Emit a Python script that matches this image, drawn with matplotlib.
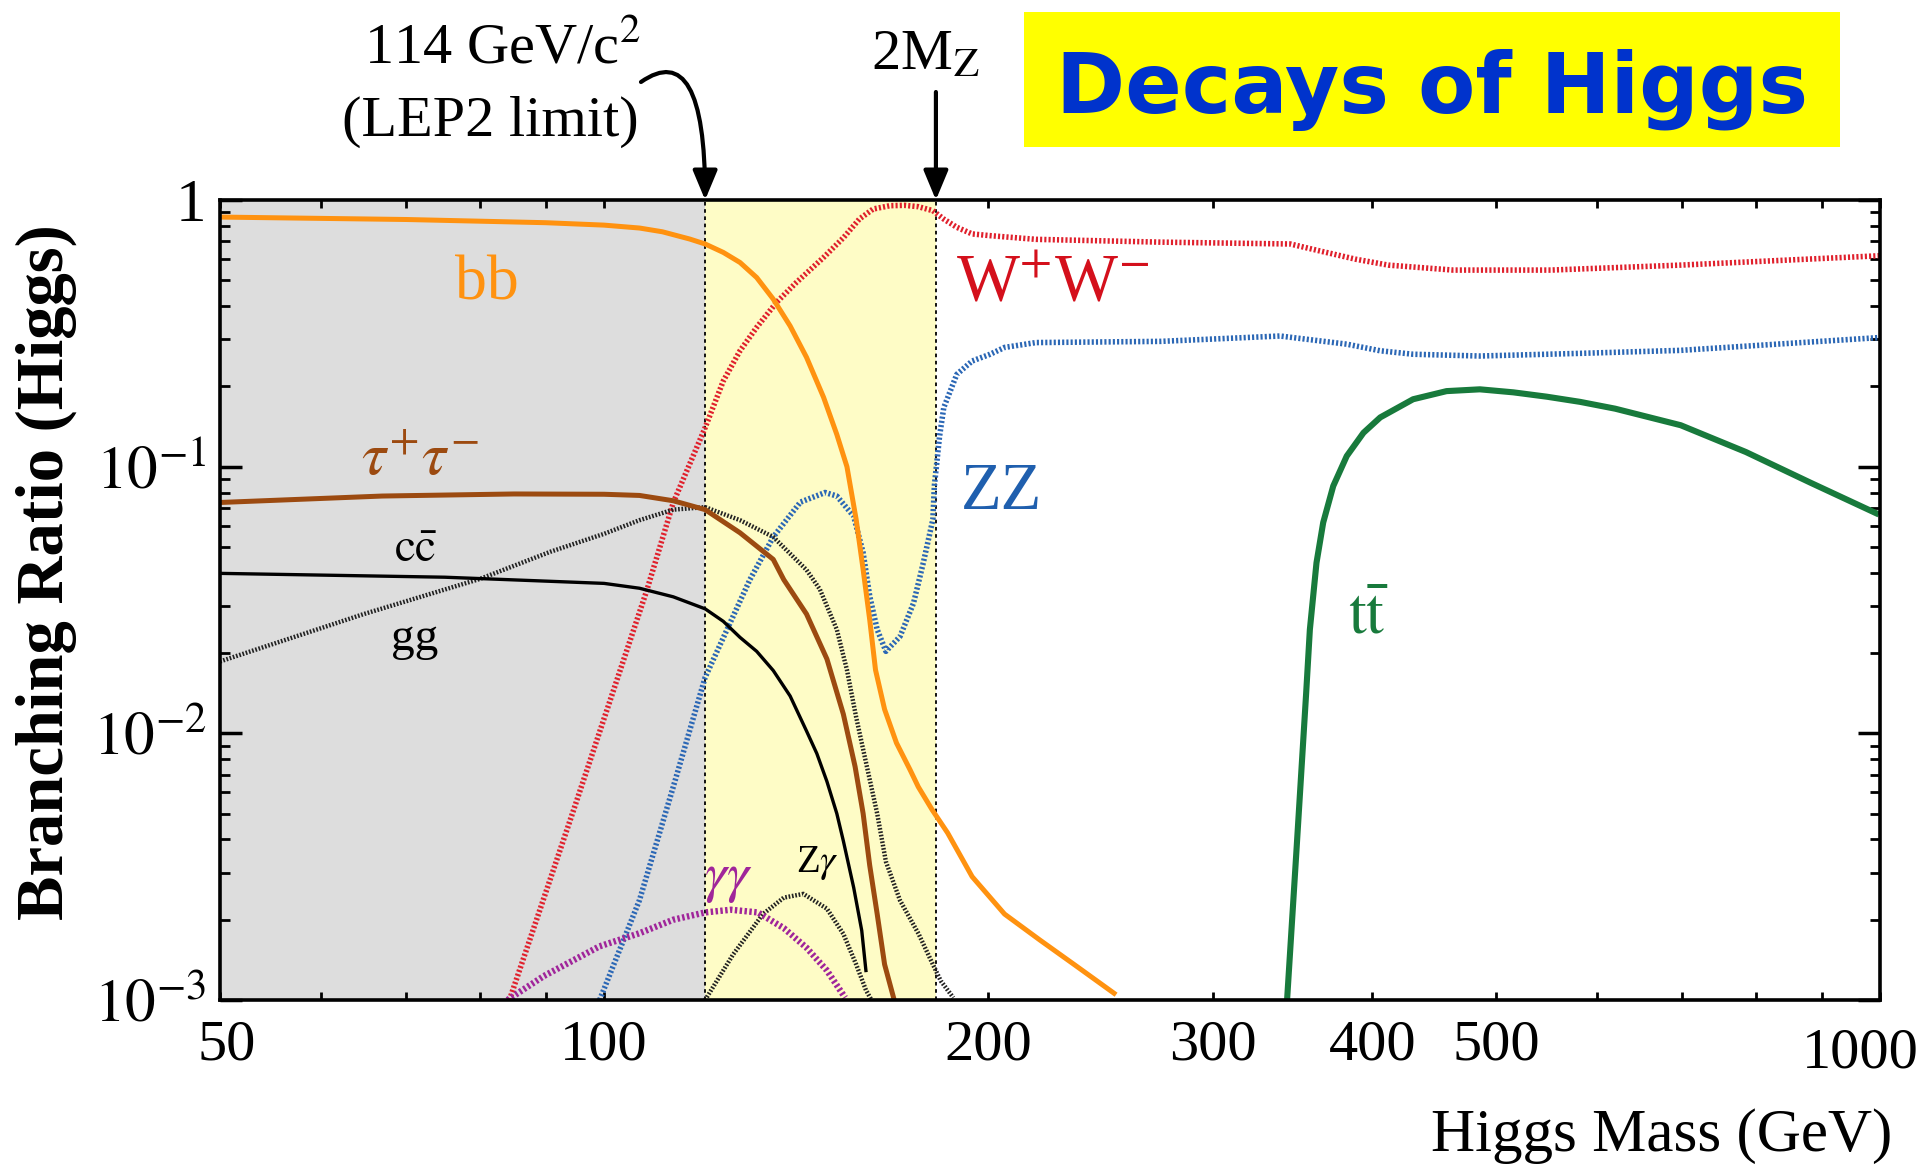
import matplotlib
matplotlib.use("Agg")
import matplotlib.pyplot as plt
import matplotlib.transforms as mtransforms
from matplotlib.ticker import FixedLocator, FixedFormatter, LogLocator, NullFormatter
from matplotlib.patches import Rectangle

plt.rcParams['font.family'] = ['Liberation Serif', 'DejaVu Serif']
plt.rcParams['mathtext.fontset'] = 'stix'

# --- data (Higgs mass in GeV, branching ratio) ---
bb_m = [50, 70, 90, 100, 106.6, 111.1, 116.7, 120, 124, 127.8, 131.7, 135.7, 139.9, 144.1, 148.6,
        152.2, 155, 157.6, 159.6, 161.5, 163.2, 165.9, 169.5, 173.7, 176.3, 180.8, 185.9, 194.3,
        206, 219.5, 234, 251]
bb_br = [0.863, 0.845, 0.822, 0.805, 0.785, 0.76, 0.714, 0.684, 0.636, 0.583, 0.512, 0.425, 0.337,
         0.257, 0.182, 0.132, 0.1, 0.0634, 0.0411, 0.0267, 0.0173, 0.0123, 0.0092, 0.0073, 0.0063,
         0.00516, 0.00423, 0.0029, 0.0021, 0.00168, 0.00135, 0.00106]

tau_m = [50, 67, 85, 100, 106.6, 113.3, 120, 127.8, 135.7, 138.3, 144.1, 149.5, 154, 157.3, 159.6,
         161.5, 163.7, 165.9, 168.8]
tau_br = [0.0734, 0.0776, 0.079, 0.0788, 0.078, 0.0745, 0.069, 0.0565, 0.0449, 0.0377, 0.028, 0.019,
          0.0118, 0.0075, 0.005, 0.0032, 0.0021, 0.00136, 0.001]

cc_m = [50, 75, 100, 106.6, 113.3, 120, 124, 127.8, 131.7, 135.7, 139.9, 144.1, 146.8, 149.5,
        152.2, 154, 156.9, 159.2, 160.4]
cc_br = [0.0398, 0.0385, 0.0365, 0.035, 0.0325, 0.0293, 0.0263, 0.0229, 0.0203, 0.0172, 0.0138,
         0.0102, 0.0084, 0.0066, 0.005, 0.00395, 0.00264, 0.00182, 0.00129]

gg_m = [50, 64.8, 80, 90.8, 100, 106.6, 113.3, 120, 127.8, 135.7, 144.1, 147.6, 152.2, 155, 157.6,
        160.4, 163.7, 166.3, 170.6, 176.4, 181, 183.6, 187.8]
gg_br = [0.0186, 0.028, 0.038, 0.048, 0.056, 0.063, 0.069, 0.0705, 0.063, 0.0545, 0.041, 0.0347,
         0.0245, 0.0173, 0.0115, 0.0078, 0.005, 0.0033, 0.00236, 0.00177, 0.00136, 0.00118, 0.00102]

zg_m = [120, 126.2, 133.2, 138.3, 143.3, 149.5, 154, 157.6, 160.4, 162]
zg_br = [0.001, 0.00148, 0.0021, 0.00242, 0.0025, 0.0022, 0.00177, 0.00136, 0.00109, 0.001]

aa_m = [84, 89.7, 99.2, 106.6, 113.3, 120, 125.7, 132, 138.3, 144.1, 149.5, 154.5]
aa_br = [0.001, 0.00123, 0.00159, 0.00178, 0.002, 0.00213, 0.00218, 0.00213, 0.00186, 0.00157,
         0.00129, 0.00102]

ww_m = [84.3, 94.7, 108, 113.3, 120, 124, 127.8, 131.7, 136.5, 141.5, 148.6, 154.1, 158.5, 162.5,
        167.5, 172, 176.3, 181, 184.6, 189, 194.3, 200.7, 218, 273, 345, 366, 388, 411.7, 463,
        552, 698, 1000]
ww_br = [0.001, 0.0052, 0.0343, 0.0733, 0.14, 0.2096, 0.272, 0.333, 0.413, 0.491, 0.609, 0.724,
         0.848, 0.925, 0.952, 0.955, 0.944, 0.912, 0.848, 0.79, 0.746, 0.735, 0.712, 0.695, 0.684,
         0.64, 0.60, 0.57, 0.546, 0.546, 0.57, 0.618]

zz_m = [99.2, 106.6, 113.3, 120, 130.1, 135.7, 142.5, 149, 152.2, 156.9, 159.6, 161.5, 163.7, 166.3,
        170.6, 174.8, 177.9, 181, 181.5, 183.2, 184.6, 189, 194.3, 200.7, 206, 218, 273, 338.7,
        382, 405.8, 430.6, 485.7, 582, 698, 1000]
zz_br = [0.001, 0.00237, 0.0063, 0.0162, 0.0377, 0.0545, 0.0736, 0.080, 0.0776, 0.0652, 0.0475,
         0.0327, 0.0245, 0.0203, 0.0231, 0.0308, 0.0436, 0.0634, 0.085, 0.13, 0.1666, 0.222, 0.249,
         0.264, 0.28, 0.292, 0.295, 0.309, 0.288, 0.272, 0.264, 0.26, 0.266, 0.273, 0.305]

tt_m = [343, 349, 355, 357.4, 361.7, 366.1, 372.8, 382, 393.7, 405.8, 430.6, 457.4, 485.7, 515.9,
        548, 582, 620, 698, 785, 882, 993]
tt_br = [0.001, 0.00375, 0.0141, 0.0245, 0.0436, 0.0617, 0.0846, 0.1096, 0.134, 0.153, 0.179, 0.192,
         0.195, 0.19, 0.183, 0.175, 0.165, 0.143, 0.1135, 0.0871, 0.0669]

lep_limit = 120   # where the dotted line sits in the picture
two_mz = 182

x_major = [50, 100, 200, 300, 400, 500, 1000]
x_minor = [60, 70, 80, 90, 600, 700, 800, 900]
y_major = [1e-3, 1e-2, 1e-1, 1]
y_labels = ['$10^{-3}$', '$10^{-2}$', '$10^{-1}$', '1']

fig = plt.figure(figsize=(19.2, 11.76), dpi=100)
ax = fig.add_axes([220 / 1920, 1 - 1000 / 1176, 1660 / 1920, 800 / 1176])

ax.axvspan(50, lep_limit, color='#dddddd', lw=0, zorder=0)
ax.axvspan(lep_limit, two_mz, color='#fefcc6', lw=0, zorder=0)
ax.axvline(lep_limit, color='black', lw=1.3, ls=(0, (2, 2)), zorder=1)
ax.axvline(two_mz, color='black', lw=1.3, ls=(0, (2, 2)), zorder=1)

dots = (0, (0.38, 0.38))
ax.plot(ww_m, ww_br, color='#e0202c', lw=4.0, ls=dots)
ax.plot(zz_m, zz_br, color='#2b67b5', lw=4.0, ls=dots)
ax.plot(gg_m, gg_br, color='#222222', lw=3.2, ls=dots)
ax.plot(zg_m, zg_br, color='#222222', lw=3.2, ls=dots)
ax.plot(aa_m, aa_br, color='#a0259a', lw=4.6, ls=dots)
ax.plot(cc_m, cc_br, color='black', lw=2.4)
ax.plot(tau_m, tau_br, color='#9c4a10', lw=3.6)
ax.plot(bb_m, bb_br, color='#ff9210', lw=3.6)
ax.plot(tt_m, tt_br, color='#187a3c', lw=4.4)

ax.set_xscale('log')
ax.set_yscale('log')
ax.set_xlim(50, 1000)
ax.set_ylim(1e-3, 1)

ax.xaxis.set_major_locator(FixedLocator(x_major))
ax.xaxis.set_major_formatter(FixedFormatter([str(v) for v in x_major]))
ax.xaxis.set_minor_locator(FixedLocator(x_minor))
ax.xaxis.set_minor_formatter(NullFormatter())
ax.yaxis.set_major_locator(FixedLocator(y_major))
ax.yaxis.set_major_formatter(FixedFormatter(y_labels))
ax.yaxis.set_minor_locator(LogLocator(base=10, subs=range(2, 10)))
ax.yaxis.set_minor_formatter(NullFormatter())

ax.tick_params(which='both', direction='in', top=True, right=True)
ax.xaxis.set_tick_params(which='both', length=6, width=2, pad=14, labelsize=42)
ax.yaxis.set_tick_params(which='major', length=16, width=2.5, pad=10, labelsize=44)
ax.yaxis.set_tick_params(which='minor', length=7, width=2)
for sp in ax.spines.values():
    sp.set_linewidth(2.6)

# the "50" label sits slightly right, "1000" a little left and lower in the original
ticks = ax.xaxis.get_major_ticks()
ticks[0].label1.set_transform(ticks[0].label1.get_transform()
                              + mtransforms.ScaledTranslation(5 / 72, 0, fig.dpi_scale_trans))
ticks[-1].label1.set_transform(ticks[-1].label1.get_transform()
                               + mtransforms.ScaledTranslation(-14 / 72, -6 / 72, fig.dpi_scale_trans))

# curve labels
ax.text(0.161, 0.894, 'bb', color='#ff9210', fontsize=46, ha='center', va='center', transform=ax.transAxes)
ax.text(0.502, 0.895, r'W$^{+}$W$^{-}$', color='#d4101c', fontsize=48, ha='center', va='center',
        transform=ax.transAxes)
ax.text(0.471, 0.634, 'ZZ', color='#1f5fae', fontsize=48, ha='center', va='center', transform=ax.transAxes)
ax.text(0.1205, 0.675, r'$\tau^{+}\tau^{-}$', color='#9c4a10', fontsize=44, ha='center', va='center',
        transform=ax.transAxes)
ax.text(0.118, 0.561, r'$\mathrm{c\bar{c}}$', color='black', fontsize=34, ha='center', va='center',
        transform=ax.transAxes)
ax.text(0.117, 0.451, 'gg', color='black', fontsize=34, ha='center', va='center', transform=ax.transAxes)
ax.text(0.3066, 0.151, r'$\gamma\gamma$', color='#a0259a', fontsize=40, ha='center', va='center',
        transform=ax.transAxes)
ax.text(0.3596, 0.171, r'Z$\gamma$', color='black', fontsize=28, ha='center', va='center',
        transform=ax.transAxes)
ax.text(0.6916, 0.4775, r'$\mathrm{t\bar{t}}$', color='#187a3c', fontsize=46, ha='center', va='center',
        transform=ax.transAxes)

# annotations above the frame
fig.text(0.2615, 0.9583, r'114 GeV/c$^{2}$', fontsize=42, ha='center', va='center')
fig.text(0.2552, 0.8963, '(LEP2 limit)', fontsize=42, ha='center', va='center')
fig.text(0.4818, 0.9532, r'2M$_{\mathrm{Z}}$', fontsize=42, ha='center', va='center')

arrow = dict(arrowstyle='-|>,head_length=0.6,head_width=0.25', color='black', lw=3,
             mutation_scale=30, shrinkA=0, shrinkB=0)
ax.annotate('', xy=(lep_limit, 1), xycoords='data', xytext=(0.2536, 1.1475),
            textcoords=('axes fraction', 'axes fraction'),
            arrowprops=dict(arrow, connectionstyle='angle3,angleA=35,angleB=90'), annotation_clip=False)
ax.annotate('', xy=(two_mz, 1), xycoords='data', xytext=(two_mz, 1.135),
            textcoords=('data', 'axes fraction'), arrowprops=arrow, annotation_clip=False)

# title box
fig.patches.append(Rectangle((1024 / 1920, 1 - 147 / 1176), 816 / 1920, 135 / 1176,
                             transform=fig.transFigure, facecolor='#ffff00', edgecolor='none'))
fig.text(0.7458, 0.9235, 'Decays of Higgs', family='DejaVu Sans', fontweight='bold', fontsize=60,
         color='#0033cc', ha='center', va='center')

fig.text(0.9854, 0.034, 'Higgs Mass (GeV)', fontsize=44, ha='right', va='center')
fig.text(0.024, 0.5136, 'Branching Ratio (Higgs)', fontsize=48, fontweight='bold', rotation=90,
         ha='center', va='center')

fig.savefig('out.png', dpi=100, facecolor='white')
